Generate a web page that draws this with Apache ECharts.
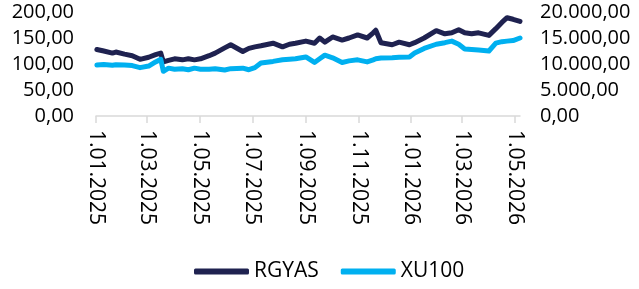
<!DOCTYPE html>
<html>
<head>
<meta charset="utf-8">
<script src="https://cdn.jsdelivr.net/npm/echarts@6/dist/echarts.min.js"></script>
<style>
  html, body { margin: 0; padding: 0; background: #fff; }
  #chart { width: 639px; height: 289px; }
</style>
</head>
<body>
<div id="chart"></div>
<script>
  // okunan degerler (yaklasik)
  var dates = [
    '2025-01-02', '2025-01-10', '2025-01-20', '2025-01-24', '2025-02-03', '2025-02-12',
    '2025-02-21', '2025-03-03', '2025-03-11', '2025-03-17', '2025-03-20', '2025-03-26',
    '2025-04-02', '2025-04-11', '2025-04-18', '2025-04-25', '2025-05-02', '2025-05-12',
    '2025-05-19', '2025-05-30', '2025-06-06', '2025-06-20', '2025-06-27', '2025-07-04',
    '2025-07-11', '2025-07-25', '2025-08-05', '2025-08-13', '2025-08-20', '2025-09-01',
    '2025-09-11', '2025-09-17', '2025-09-23', '2025-10-02', '2025-10-13', '2025-10-21',
    '2025-10-31', '2025-11-11', '2025-11-18', '2025-11-21', '2025-11-27', '2025-12-10',
    '2025-12-18', '2025-12-30', '2026-01-05', '2026-01-16', '2026-01-30', '2026-02-09',
    '2026-02-17', '2026-02-25', '2026-03-04', '2026-03-12', '2026-03-20', '2026-04-01',
    '2026-04-09', '2026-04-16', '2026-04-22', '2026-04-29', '2026-05-07'
  ]
  var rgyas = [
    128, 125, 121, 123, 119, 116,
    109, 113, 118, 121, 104, 107,
    110, 108, 110, 108, 110, 116,
    121, 131, 137, 124, 130, 133,
    135, 140, 133, 138, 140, 144,
    140, 150, 142, 152, 146, 150,
    156, 150, 160, 165, 141, 137,
    142, 137, 141, 150, 164, 158,
    160, 166, 160, 158, 160, 155,
    168, 180, 189, 186, 182
  ]
  var xu100 = [
    9800, 9900, 9750, 9850, 9800, 9700,
    9300, 9600, 10400, 10900, 8600, 9200,
    9000, 9100, 8900, 9200, 9000, 9000,
    9100, 8850, 9100, 9200, 8900, 9300,
    10200, 10500, 10800, 10900, 11000, 11350,
    10300, 11000, 11700, 11200, 10300, 10600,
    10800, 10400, 10800, 11000, 11150, 11200,
    11300, 11350, 12100, 13000, 13800, 14100,
    14400, 13800, 12900, 12800, 12700, 12500,
    14000, 14300, 14400, 14500, 15000
  ]
  var tickLabels = ['1.01.2025', '1.03.2025', '1.05.2025', '1.07.2025', '1.09.2025',
    '1.11.2025', '1.01.2026', '1.03.2026', '1.05.2026']

  function parseTick(s) {
    var p = s.split('.')
    return +new Date(+p[2], +p[1] - 1, +p[0])
  }
  function parseDate(s) {
    var p = s.split('-')
    return +new Date(+p[0], +p[1] - 1, +p[2])
  }
  function pad(n) {
    return n < 10 ? '0' + n : '' + n
  }
  function fmtNum(v) {
    var s = v.toFixed(2).split('.')
    return s[0].replace(/\B(?=(\d{3})+(?!\d))/g, '.') + ',' + s[1]
  }

  var tickValues = tickLabels.map(parseTick)
  var times = dates.map(parseDate)
  var font = 'Open Sans'

  var chart = echarts.init(document.getElementById('chart'))
  chart.setOption({
    animation: false,
    backgroundColor: '#ffffff',
    grid: {
      left: 96,
      right: 119,
      top: 12,
      bottom: 173
    },
    legend: {
      data: ['RGYAS', 'XU100'],
      left: 189,
      top: 256,
      icon: 'roundRect',
      itemWidth: 55,
      itemHeight: 6,
      itemGap: 22,
      textStyle: {
        color: '#000',
        fontFamily: font,
        fontSize: 21
      }
    },
    xAxis: {
      type: 'value',
      min: tickValues[0],
      max: times[times.length - 1],
      scale: true,
      splitLine: { show: false },
      axisLine: {
        lineStyle: { color: '#d9d9d9', width: 1.5 }
      },
      axisTick: {
        show: true,
        length: 7,
        customValues: tickValues,
        lineStyle: { color: '#d9d9d9', width: 1.5 }
      },
      axisLabel: {
        rotate: -90,
        margin: 14,
        color: '#000',
        fontFamily: font,
        fontSize: 21,
        customValues: tickValues,
        formatter: function (v) {
          var d = new Date(v)
          return d.getDate() + '.' + pad(d.getMonth() + 1) + '.' + d.getFullYear()
        }
      }
    },
    yAxis: [{
      type: 'value',
      min: 0,
      max: 200,
      interval: 50,
      splitLine: { show: false },
      axisLine: { show: false },
      axisTick: { show: false },
      axisLabel: {
        margin: 22,
        color: '#000',
        fontFamily: font,
        fontSize: 20,
        formatter: fmtNum
      }
    }, {
      type: 'value',
      min: 0,
      max: 20000,
      interval: 5000,
      splitLine: { show: false },
      axisLine: { show: false },
      axisTick: { show: false },
      axisLabel: {
        margin: 20,
        color: '#000',
        fontFamily: font,
        fontSize: 20,
        formatter: fmtNum
      }
    }],
    series: [{
      name: 'RGYAS',
      type: 'line',
      yAxisIndex: 0,
      showSymbol: false,
      color: '#1f2250',
      lineStyle: { width: 5, color: '#1f2250', cap: 'round', join: 'round' },
      data: times.map(function (t, i) { return [t, rgyas[i]] })
    }, {
      name: 'XU100',
      type: 'line',
      yAxisIndex: 1,
      showSymbol: false,
      color: '#00b0f0',
      lineStyle: { width: 5, color: '#00b0f0', cap: 'round', join: 'round' },
      data: times.map(function (t, i) { return [t, xu100[i]] })
    }]
  })
</script>
</body>
</html>
